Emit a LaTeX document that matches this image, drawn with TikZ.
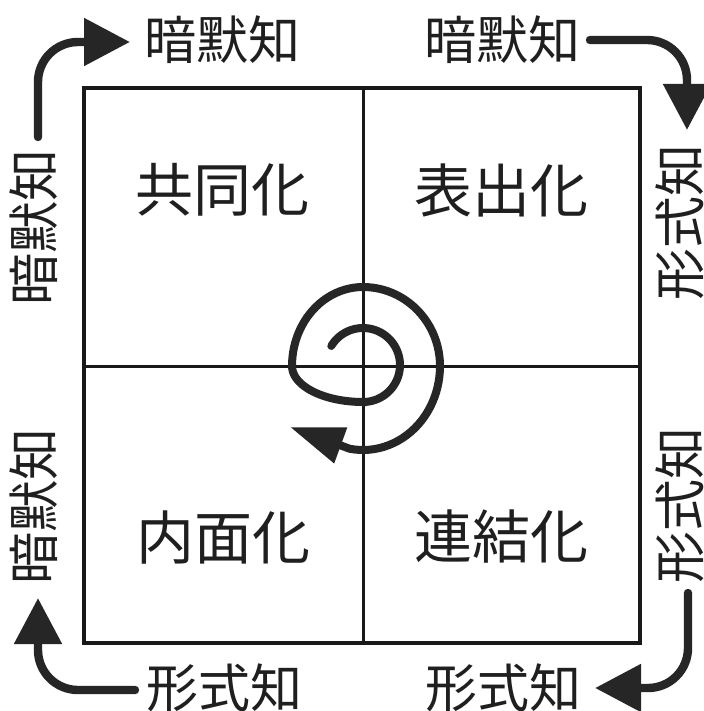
\documentclass[tikz,border=0pt]{standalone}
\usepackage{fontspec}
\setmainfont{Noto Sans CJK JP}
\usetikzlibrary{arrows.meta}
\begin{document}
\begin{tikzpicture}[x=0.5pt,y=-0.5pt,
  quadlabel/.style={font=\fontsize{29}{30}\selectfont, text=black!88, inner sep=0pt},
  outerlabel/.style={font=\fontsize{26}{27}\selectfont, text=black!88, inner sep=0pt},
  vlabel/.style={outerlabel, rotate=90},
  cornerarrow/.style={draw=black!85, line width=4.2pt, rounded corners=20pt, line cap=round,
    -{Triangle[length=23pt,width=23pt]}},
  spiralline/.style={draw=black!85, line width=4pt, line cap=round,
    -{Triangle[length=27pt,width=18pt]}},
  frame/.style={draw=black!90, line width=2pt},
  divider/.style={draw=black!90, line width=1.5pt}
]
\useasboundingbox (0,0) rectangle (704,711);
\fill[white] (0,0) rectangle (704,711);

% grid
\draw[frame] (84,88) rectangle (640,643);
\coordinate (vtop) at (363,88);
\coordinate (vbot) at (363,643);
\coordinate (hleft) at (84,366);
\coordinate (hright) at (640,366);
\draw[divider] (vtop) -- (vbot);
\draw[divider] (hleft) -- (hright);

% quadrant labels
\node[quadlabel] (soc) at (222,190) {共同化};
\node[quadlabel] (ext) at (501,190) {表出化};
\node[quadlabel] (int) at (223,538) {内面化};
\node[quadlabel] (com) at (501,537) {連結化};

% outer labels
\node[outerlabel] (tl) at (222,40) {暗默知};
\node[outerlabel] (tr) at (502,40) {暗默知};
\node[outerlabel] (bl) at (224,688) {形式知};
\node[outerlabel] (br) at (503,688) {形式知};
\node[vlabel] (lt) at (34,227) {暗默知};
\node[vlabel] (lb) at (34,506) {暗默知};
\node[vlabel] (rt) at (680,222) {形式知};
\node[vlabel] (rb) at (680,505) {形式知};

% corner arrows
\coordinate (a1s) at (38,137);
\coordinate (a1e) at (130,42);
\coordinate (a2s) at (590,40);
\coordinate (a2e) at (687,130);
\coordinate (a3s) at (688,593);
\coordinate (a3e) at (595,688);
\coordinate (a4s) at (135,690);
\coordinate (a4e) at (38,598);
\draw[cornerarrow] (a1s) |- (a1e);
\draw[cornerarrow] (a2s) -| (a2e);
\draw[cornerarrow] (a3s) |- (a3e);
\draw[cornerarrow] (a4s) -| (a4e);

% spiral
\coordinate (sptip) at (290,427);
\draw[spiralline]
  plot[domain=211:450,samples=50] ({363+37*cos(\x)},{365+37*sin(\x)})
  -- plot[domain=90:180,samples=25] ({363+71*cos(\x)},{366+36*sin(\x)})
  -- plot[domain=180:270,samples=25] ({363+71*cos(\x)},{366+79*sin(\x)})
  -- plot[domain=270:360,samples=25] ({363+77*cos(\x)},{366+79*sin(\x)})
  -- plot[domain=0:100,samples=28] ({363+77*cos(\x)},{366+84*sin(\x)})
  -- (sptip);
\end{tikzpicture}
\end{document}
